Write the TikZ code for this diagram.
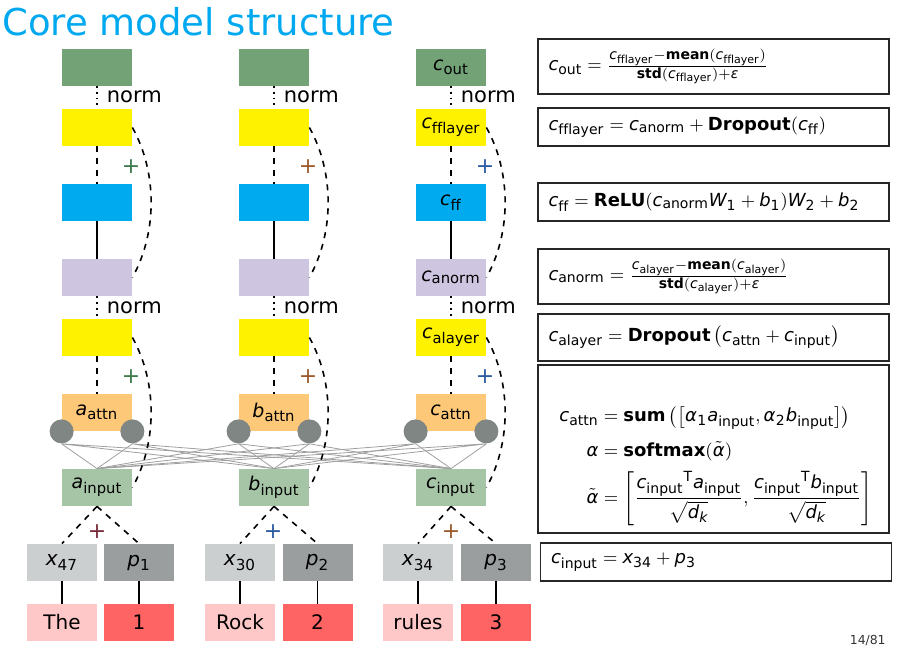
\documentclass[tikz,border=0pt]{standalone}
\usepackage{amsmath}
\usepackage{mathspec}
\setmainfont{DejaVu Sans}
\setmathsfont(Digits,Latin,Greek){DejaVu Sans}
\setmathrm{DejaVu Sans}
\DeclareMathSizes{9}{9}{7}{5.5}
\DeclareMathSizes{9.5}{9.5}{7.4}{5.8}
\DeclareMathSizes{10}{10}{7.6}{6}

\definecolor{titleblue}{HTML}{00A8F0}
\definecolor{outgreen}{HTML}{72A276}
\definecolor{layyellow}{HTML}{FFF200}
\definecolor{ffblue}{HTML}{00AAEE}
\definecolor{normlav}{HTML}{CEC6E0}
\definecolor{attnorange}{HTML}{FDC878}
\definecolor{ingreen}{HTML}{A6C4A6}
\definecolor{embgray}{HTML}{CCCFD0}
\definecolor{posgray}{HTML}{9A9E9E}
\definecolor{wordpink}{HTML}{FFC8C8}
\definecolor{numred}{HTML}{FF6464}
\definecolor{headgray}{HTML}{808684}
\definecolor{plusgreen}{HTML}{3C7A4C}
\definecolor{plusbrown}{HTML}{9A5A2A}
\definecolor{plusblue}{HTML}{2A5AA0}
\definecolor{plusred}{HTML}{7A2A3A}

\tikzset{
  blk/.style={rectangle, minimum width=35pt, minimum height=18.5pt, inner sep=0pt, font=\fontsize{9.5}{11}\selectfont},
  tok/.style={blk, font=\fontsize{10}{12}\selectfont},
  head/.style={circle, fill=headgray, minimum size=12pt, inner sep=0pt},
  res/.style={dashed, line width=0.8pt},
  nrm/.style={dotted, line width=0.9pt},
  ffw/.style={line width=0.8pt},
  tie/.style={line width=0.6pt},
  wire/.style={gray!75, line width=0.4pt},
  skip/.style={dashed, line width=0.8pt},
  plus/.style={inner sep=0pt, font=\fontsize{11}{12}\selectfont},
  normlbl/.style={right, inner sep=0pt, xshift=4.5pt, font=\fontsize{10.5}{12}\selectfont},
  eqbox/.style={draw=black!85, line width=0.6pt, minimum width=175.5pt, text width=165pt, inner xsep=5pt, align=left, font=\fontsize{9}{11}\selectfont},
  eqtext/.style={anchor=west, inner sep=0pt, font=\fontsize{9}{11}\selectfont},
}

\begin{document}
\begin{tikzpicture}[x=0.5pt,y=-0.5pt]
    \useasboundingbox (0,0) rectangle (920,648);

    % Title
    \node[anchor=base west, inner sep=0pt, text=titleblue, font=\fontsize{18.5}{22}\selectfont] (title) at (2,35) {Core model structure};

    % Column a
    \node[blk, fill=outgreen] (outA) at (97,67) {};
    \node[blk, fill=layyellow] (fflA) at (97,127.5) {};
    \node[blk, fill=ffblue] (ffA) at (97,202.5) {};
    \node[blk, fill=normlav] (anA) at (97,277.5) {};
    \node[blk, fill=layyellow] (alA) at (97,337.5) {};
    \node[blk, fill=attnorange] (atA) at (97,412.5) {$a_{\mathrm{attn}}$};
    \node[blk, fill=ingreen] (inA) at (97,487.5) {$a_{\mathrm{input}}$};
    \node[tok, fill=embgray] (xA) at (62,562.5) {$x_{47}$};
    \node[tok, fill=posgray] (pA) at (139,562.5) {$p_1$};
    \node[tok, fill=wordpink] (wA) at (62,622.5) {The};
    \node[tok, fill=numred] (nA) at (139,622.5) {1};
    \node[head] (hAl) at (atA.south west) {};
    \node[head] (hAr) at (atA.south east) {};

    % Column b
    \node[blk, fill=outgreen] (outB) at (274,67) {};
    \node[blk, fill=layyellow] (fflB) at (274,127.5) {};
    \node[blk, fill=ffblue] (ffB) at (274,202.5) {};
    \node[blk, fill=normlav] (anB) at (274,277.5) {};
    \node[blk, fill=layyellow] (alB) at (274,337.5) {};
    \node[blk, fill=attnorange] (atB) at (274,412.5) {$b_{\mathrm{attn}}$};
    \node[blk, fill=ingreen] (inB) at (274,487.5) {$b_{\mathrm{input}}$};
    \node[tok, fill=embgray] (xB) at (240,562.5) {$x_{30}$};
    \node[tok, fill=posgray] (pB) at (317.5,562.5) {$p_2$};
    \node[tok, fill=wordpink] (wB) at (240,622.5) {Rock};
    \node[tok, fill=numred] (nB) at (317.5,622.5) {2};
    \node[head] (hBl) at (atB.south west) {};
    \node[head] (hBr) at (atB.south east) {};

    % Column c
    \node[blk, fill=outgreen] (outC) at (451,67) {$c_{\mathrm{out}}$};
    \node[blk, fill=layyellow] (fflC) at (451,127.5) {$c_{\mathrm{fflayer}}$};
    \node[blk, fill=ffblue] (ffC) at (451,202.5) {$c_{\mathrm{ff}}$};
    \node[blk, fill=normlav] (anC) at (451,277.5) {$c_{\mathrm{anorm}}$};
    \node[blk, fill=layyellow] (alC) at (451,337.5) {$c_{\mathrm{alayer}}$};
    \node[blk, fill=attnorange] (atC) at (451,412.5) {$c_{\mathrm{attn}}$};
    \node[blk, fill=ingreen] (inC) at (451,487.5) {$c_{\mathrm{input}}$};
    \node[tok, fill=embgray] (xC) at (418,562.5) {$x_{34}$};
    \node[tok, fill=posgray] (pC) at (496,562.5) {$p_3$};
    \node[tok, fill=wordpink] (wC) at (418,622.5) {rules};
    \node[tok, fill=numred] (nC) at (496,622.5) {3};
    \node[head] (hCl) at (atC.south west) {};
    \node[head] (hCr) at (atC.south east) {};

    % Attention wires
    \draw[wire] (hAl.south) -- (inA.north) (hAl.south) -- (inB.north) (hAl.south) -- (inC.north);
    \draw[wire] (hAr.south) -- (inA.north) (hAr.south) -- (inB.north) (hAr.south) -- (inC.north);
    \draw[wire] (hBl.south) -- (inA.north) (hBl.south) -- (inB.north) (hBl.south) -- (inC.north);
    \draw[wire] (hBr.south) -- (inA.north) (hBr.south) -- (inB.north) (hBr.south) -- (inC.north);
    \draw[wire] (hCl.south) -- (inA.north) (hCl.south) -- (inB.north) (hCl.south) -- (inC.north);
    \draw[wire] (hCr.south) -- (inA.north) (hCr.south) -- (inB.north) (hCr.south) -- (inC.north);

    % Connectors, column a
    \draw[nrm] (outA) -- node[normlbl] (nmA1) {norm} (fflA);
    \draw[res] (fflA) -- (ffA);
    \draw[ffw] (ffA) -- (anA);
    \draw[nrm] (anA) -- node[normlbl] (nmA2) {norm} (alA);
    \draw[res] (alA) -- (atA);
    \draw[skip] (fflA.east) .. controls +(25,45) and +(25,-45) .. (anA.east);
    \draw[skip] (alA.east) .. controls +(25,45) and +(25,-45) .. (inA.east);
    \draw[res] (inA.south) -- (xA.north);
    \draw[res] (inA.south) -- (pA.north);
    \draw[tie] (xA) -- (wA);
    \draw[tie] (pA) -- (nA);
    \node[plus, text=plusgreen] (plA1) at (131,167) {+};
    \node[plus, text=plusgreen] (plA2) at (131,377) {+};
    \node[plus, text=plusred] (plA3) at (97,532) {+};

    % Connectors, column b
    \draw[nrm] (outB) -- node[normlbl] (nmB1) {norm} (fflB);
    \draw[res] (fflB) -- (ffB);
    \draw[ffw] (ffB) -- (anB);
    \draw[nrm] (anB) -- node[normlbl] (nmB2) {norm} (alB);
    \draw[res] (alB) -- (atB);
    \draw[skip] (fflB.east) .. controls +(25,45) and +(25,-45) .. (anB.east);
    \draw[skip] (alB.east) .. controls +(25,45) and +(25,-45) .. (inB.east);
    \draw[res] (inB.south) -- (xB.north);
    \draw[res] (inB.south) -- (pB.north);
    \draw[tie] (xB) -- (wB);
    \draw[tie] (pB) -- (nB);
    \node[plus, text=plusbrown] (plB1) at (308,167) {+};
    \node[plus, text=plusbrown] (plB2) at (308,377) {+};
    \node[plus, text=plusblue] (plB3) at (273,532) {+};

    % Connectors, column c
    \draw[nrm] (outC) -- node[normlbl] (nmC1) {norm} (fflC);
    \draw[res] (fflC) -- (ffC);
    \draw[ffw] (ffC) -- (anC);
    \draw[nrm] (anC) -- node[normlbl] (nmC2) {norm} (alC);
    \draw[res] (alC) -- (atC);
    \draw[skip] (fflC.east) .. controls +(25,45) and +(25,-45) .. (anC.east);
    \draw[skip] (alC.east) .. controls +(25,45) and +(25,-45) .. (inC.east);
    \draw[res] (inC.south) -- (xC.north);
    \draw[res] (inC.south) -- (pC.north);
    \draw[tie] (xC) -- (wC);
    \draw[tie] (pC) -- (nC);
    \node[plus, text=plusblue] (plC1) at (485,167) {+};
    \node[plus, text=plusblue] (plC2) at (485,377) {+};
    \node[plus, text=plusbrown] (plC3) at (451,532) {+};

    % Equations
    \node[eqbox, minimum height=27.5pt] (eqout) at (713.5,66.5) {$c_{\mathrm{out}} = \frac{c_{\mathrm{fflayer}}-\textbf{mean}(c_{\mathrm{fflayer}})}{\textbf{std}(c_{\mathrm{fflayer}})+\epsilon}$};
    \node[eqbox, minimum height=19pt] (eqffl) at (713.5,127) {$c_{\mathrm{fflayer}} = c_{\mathrm{anorm}} + \textbf{Dropout}(c_{\mathrm{ff}})$};
    \node[eqbox, minimum height=19pt] (eqff) at (713.5,202) {$c_{\mathrm{ff}} = \textbf{ReLU}(c_{\mathrm{anorm}} W_1 + b_1) W_2 + b_2$};
    \node[eqbox, minimum height=27.5pt] (eqan) at (713.5,276.5) {$c_{\mathrm{anorm}} = \frac{c_{\mathrm{alayer}}-\textbf{mean}(c_{\mathrm{alayer}})}{\textbf{std}(c_{\mathrm{alayer}})+\epsilon}$};
    \node[eqbox, minimum height=23.5pt] (eqal) at (713.5,337.5) {$c_{\mathrm{alayer}} = \textbf{Dropout}\left(c_{\mathrm{attn}} + c_{\mathrm{input}}\right)$};
    \node[eqbox, minimum height=84pt] (eqat) at (713.5,449) {};
    \node[eqtext] (eqattxt) at (559,466) {$\begin{aligned}
        c_{\mathrm{attn}} &= \textbf{sum}\left(\left[\alpha_1 a_{\mathrm{input}}, \alpha_2 b_{\mathrm{input}}\right]\right)\\[2pt]
        \alpha &= \textbf{softmax}(\tilde{\alpha})\\
        \tilde{\alpha} &= \left[\frac{{c_{\mathrm{input}}}^{\mathrm{T}} a_{\mathrm{input}}}{\sqrt{d_k}}, \frac{{c_{\mathrm{input}}}^{\mathrm{T}} b_{\mathrm{input}}}{\sqrt{d_k}}\right]
      \end{aligned}$};
    \node[eqbox, minimum height=19pt] (eqin) at (716,562) {$c_{\mathrm{input}} = x_{34} + p_3$};

    % Page number
    \node[anchor=east, inner sep=0pt, text=black!80, font=\fontsize{6.2}{8}\selectfont] (pgnum) at (886,640) {14/81};
\end{tikzpicture}
\end{document}
